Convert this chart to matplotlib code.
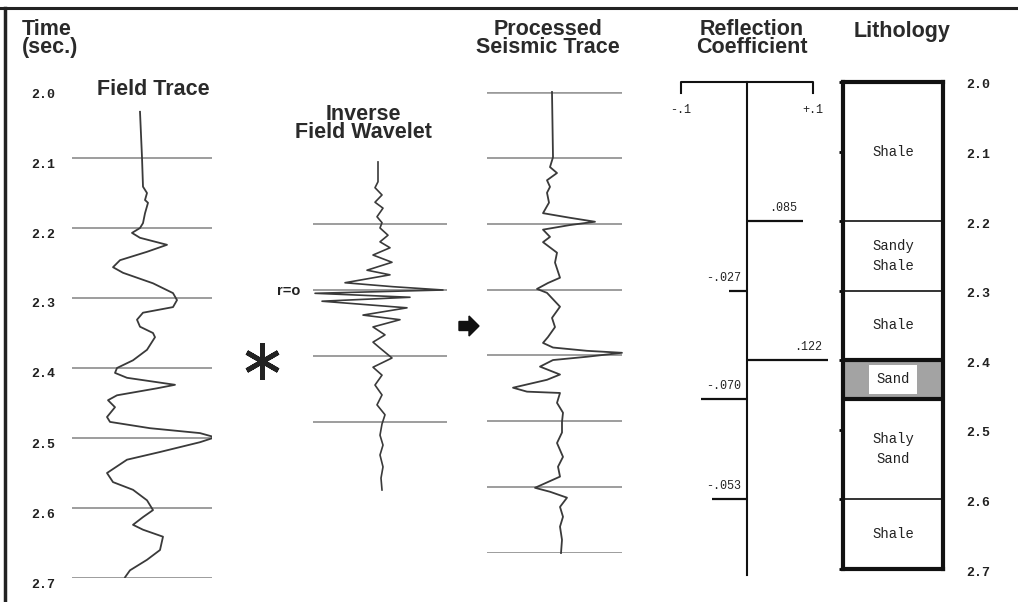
import matplotlib
matplotlib.use('Agg')
import matplotlib.pyplot as plt
import matplotlib.transforms as mtransforms
from matplotlib.lines import Line2D
from matplotlib.patches import FancyArrow

# Two-way time marks (s)
times = [2.0, 2.1, 2.2, 2.3, 2.4, 2.5, 2.6, 2.7]
time_labels = ['2.0', '2.1', '2.2', '2.3', '2.4', '2.5', '2.6', '2.7']

# Field trace: time (s) and amplitude
field_t = [2.034, 2.099, 2.141, 2.150, 2.160, 2.164, 2.179, 2.193, 2.200,
           2.207, 2.214, 2.224, 2.234, 2.246, 2.256, 2.264, 2.279, 2.293,
           2.303, 2.313, 2.321, 2.331, 2.341, 2.350, 2.356, 2.374, 2.389,
           2.400, 2.407, 2.414, 2.424, 2.429, 2.439, 2.446, 2.456, 2.470,
           2.477, 2.486, 2.493, 2.499, 2.506, 2.520, 2.531, 2.550, 2.563,
           2.574, 2.589, 2.603, 2.613, 2.624, 2.631, 2.641, 2.660, 2.674,
           2.689, 2.699]
field_a = [0.0, 0.2, 0.3, 0.7, 0.5, 0.8, 0.5, 0.3, 0.0,
           -0.8, 0.0, 2.7, 0.7, -2.0, -2.7, -1.7, 1.3, 3.3,
           3.7, 3.3, 0.3, -0.3, 0.0, 1.3, 1.5, 0.7, -0.7,
           -2.3, -2.5, -1.3, 3.5, 1.7, -2.3, -3.2, -2.5, -3.3,
           -3.0, 1.0, 6.0, 7.5, 6.0, 2.0, -1.3, -3.3, -2.7,
           -0.7, 0.7, 1.3, 0.3, -0.7, 0.3, 2.3, 2.0, 0.7,
           -1.0, -1.5]

# Inverse field wavelet: lag (s) and amplitude
wavelet_lag = [-0.194, -0.164, -0.155, -0.144, -0.133, -0.124, -0.111,
               -0.102, -0.094, -0.083, -0.073, -0.064, -0.053, -0.042,
               -0.030, -0.023, -0.011, -0.005, 0.000, 0.005, 0.011,
               0.017, 0.027, 0.038, 0.045, 0.056, 0.068, 0.079, 0.088,
               0.103, 0.117, 0.129, 0.144, 0.159, 0.174, 0.189, 0.203,
               0.220, 0.235, 0.250, 0.268, 0.285, 0.303]
wavelet_a = [-0.2, -0.2, -0.5, 0.2, -0.5, 0.3, -0.3,
             0.2, 0.0, 0.8, 0.0, 1.0, -0.7, 1.2,
             -1.3, 1.0, -3.5, 1.3, 6.3, -6.5, 3.0,
             -5.8, 2.7, -1.7, 2.0, -0.7, 0.5, -0.7, 0.0,
             1.2, -0.7, 0.2, -0.5, 0.2, -0.3, 0.5, 0.2,
             0.0, 0.3, 0.0, 0.3, 0.1, 0.2]
wavelet_marks = [-0.1, 0.0, 0.1, 0.2]

# Processed (deconvolved) seismic trace
processed_t = [2.000, 2.099, 2.114, 2.123, 2.134, 2.144, 2.153, 2.168,
               2.184, 2.191, 2.197, 2.202, 2.209, 2.220, 2.228, 2.244,
               2.259, 2.282, 2.290, 2.299, 2.305, 2.326, 2.343, 2.357,
               2.372, 2.381, 2.388, 2.393, 2.396, 2.402, 2.407, 2.417,
               2.429, 2.437, 2.449, 2.455, 2.457, 2.472, 2.487, 2.501,
               2.517, 2.533, 2.554, 2.569, 2.584, 2.601, 2.607, 2.616,
               2.630, 2.645, 2.660, 2.680, 2.700]
processed_a = [-0.1, 0.0, -0.3, 0.4, -0.6, -0.3, -0.6, -0.4,
               -1.0, 1.7, 4.2, 1.7, -1.0, -0.3, -1.0, 0.4,
               0.2, 0.7, -0.5, -1.6, -0.6, 0.7, -0.1, 0.2,
               -0.5, -1.0, 0.0, 3.4, 6.9, 3.4, 0.0, -1.3,
               0.7, -0.6, -4.0, -2.6, 0.7, 0.4, 1.0, 0.9,
               0.9, 0.4, 1.0, 0.5, 0.7, -1.8, -0.3, 1.4,
               0.7, 1.0, 0.7, 0.9, 0.8]

# Reflection coefficient series
rc_times = [2.2, 2.3, 2.4, 2.455, 2.6]
rc_values = [0.085, -0.027, 0.122, -0.070, -0.053]
rc_labels = ['.085', '-.027', '.122', '-.070', '-.053']

# Lithology column
litho_tops = [2.0, 2.2, 2.3, 2.4, 2.455, 2.6]
litho_bases = [2.2, 2.3, 2.4, 2.455, 2.6, 2.7]
litho_names = ['Shale', 'Sandy\nShale', 'Shale', 'Sand', 'Shaly\nSand', 'Shale']

W, H = 1018, 602
MONO = 'Liberation Mono'
SANS = 'Liberation Sans'
TRACE = '#3a3a3a'
GRID = '#8c8c8c'
INK = '#222222'

fig = plt.figure(figsize=(W / 100, H / 100), dpi=100)


def panel(x0, y0, x1, y1):
    # axes placed by pixel box (origin top-left)
    ax = fig.add_axes([x0 / W, 1 - y1 / H, (x1 - x0) / W, (y1 - y0) / H])
    for s in ax.spines.values():
        s.set_visible(False)
    ax.set_xticks([])
    ax.set_yticks([])
    ax.patch.set_alpha(0)
    return ax


def shift_labels(labels, dx, dy):
    off = mtransforms.ScaledTranslation(dx / 100, dy / 100, fig.dpi_scale_trans)
    for lab in labels:
        lab.set_transform(lab.get_transform() + off)


def title(x, y, s, ha='center'):
    fig.text(x / W, 1 - y / H, s, ha=ha, va='top', family=SANS,
             weight='bold', fontsize=15.5, color='#2a2a2a', linespacing=0.8)


# frame
fig.add_artist(Line2D([0, 1], [1 - 8 / H, 1 - 8 / H], transform=fig.transFigure,
                      color=INK, lw=2.2))
fig.add_artist(Line2D([5 / W, 5 / W], [0, 1 - 8 / H], transform=fig.transFigure,
                      color=INK, lw=2.5))

# field trace
ax = panel(72, 88, 212, 578)
ax.set_xlim(-6.8, 7.2)
ax.set_ylim(2.7, 2.0)
ax.hlines(times[1:], -6.8, 7.2, color=GRID, lw=1.2)
ax.plot(field_a, field_t, color=TRACE, lw=1.3, solid_joinstyle='round')
ax.set_yticks(times)
ax.set_yticklabels(time_labels, family=MONO, weight='bold', fontsize=9.5,
                   color=INK)
ax.tick_params(axis='y', length=0, pad=12)
shift_labels(ax.get_yticklabels(), 0, -5)

# inverse wavelet
ax = panel(313, 158, 447, 488)
ax.set_xlim(-6.7, 6.7)
ax.set_ylim(0.3, -0.2)
ax.hlines(wavelet_marks, -6.7, 6.7, color=GRID, lw=1.2)
ax.plot(wavelet_a, wavelet_lag, color=TRACE, lw=1.2, clip_on=False,
        solid_joinstyle='round')
ax.set_yticks([0.0])
ax.set_yticklabels(['r=o'], family=SANS, weight='bold', fontsize=10.5,
                   color=INK)
ax.tick_params(axis='y', length=0, pad=9)

# processed trace
ax = panel(487, 92, 622, 553)
ax.set_xlim(-6.6, 6.9)
ax.set_ylim(2.7, 2.0)
ax.hlines(times[1:], -6.6, 6.9, color=GRID, lw=1.2)
ax.hlines(times[:1], -6.6, 6.9, color='#9a9a9a', lw=2.6)
ax.plot(processed_a, processed_t, color=TRACE, lw=1.3, clip_on=False,
        solid_joinstyle='round')

# reflection coefficients
ax = panel(660, 82, 850, 569)
ax.set_xlim(-0.1318, 0.156)
ax.set_ylim(2.7, 2.0)
ax.plot([0, 0], [2.0, 2.709], color='#111111', lw=1.5, clip_on=False)
ax.plot([-0.1, -0.1, 0.1, 0.1], [2.016, 2.0, 2.0, 2.016], color='#111111',
        lw=1.5, clip_on=False)
for v, s in zip([-0.1, 0.1], ['-.1', '+.1']):
    ax.text(v, 2.04, s, ha='center', va='center', family=MONO, fontsize=8.5,
            color=INK)
ax.hlines(rc_times, 0, rc_values, color='#111111', lw=1.6, clip_on=False)
for t, v, s in zip(rc_times, rc_values, rc_labels):
    anchor = v if v > 0 else 0
    ax.annotate(s, (anchor, t), xytext=(-4, 5), textcoords='offset points',
                ha='right', va='bottom', family=MONO, fontsize=8.5,
                color=INK)

# lithology column
ax = fig.add_axes([843 / W, 1 - 569 / H, 100 / W, 487 / H])
ax.set_xlim(0, 1)
ax.set_ylim(2.7, 2.0)
ax.set_xticks([])
for s in ax.spines.values():
    s.set_linewidth(3)
    s.set_color('#111111')
for top, base, name in zip(litho_tops, litho_bases, litho_names):
    sand = name == 'Sand'
    if sand:
        ax.axhspan(top, base, color='#a3a3a3', lw=0)
    if top > 2.0:
        ax.axhline(top, color='#111111', lw=3 if sand else 1.2)
    if base < 2.7 and sand:
        ax.axhline(base, color='#111111', lw=3)
    box = dict(boxstyle='square,pad=0.55', fc='white', ec='none') if sand else None
    ax.text(0.5, (top + base) / 2, name, ha='center', va='center', family=MONO,
            fontsize=10, color=INK, linespacing=1.6, bbox=box)
ax.set_yticks(times)
ax.set_yticklabels(time_labels, family=MONO, weight='bold', fontsize=9.5,
                   color=INK)
ax.tick_params(axis='y', left=True, right=False, labelleft=False,
               labelright=True, length=3, width=2, pad=14)
shift_labels(ax.get_yticklabels(), 0, -2)

# convolution sign and arrow
fig.add_artist(Line2D([262 / W], [1 - 361 / H], transform=fig.transFigure,
                      marker=(6, 2, 0), markersize=26, mew=3.5, color=INK))
fig.add_artist(FancyArrow(459 / W, 1 - 326 / H, 20 / W, 0, width=9 / H,
                          head_width=20 / H, head_length=10 / W,
                          length_includes_head=True, transform=fig.transFigure,
                          color='#111111'))

# headings
title(22, 19, 'Time\n(sec.)', ha='left')
title(153, 79, 'Field Trace')
title(363, 104, 'Inverse\nField Wavelet')
title(548, 19, 'Processed\nSeismic Trace')
title(752, 19, 'Reflection\nCoefficient')
title(902, 21, 'Lithology')

fig.savefig('out.png', dpi=100)
